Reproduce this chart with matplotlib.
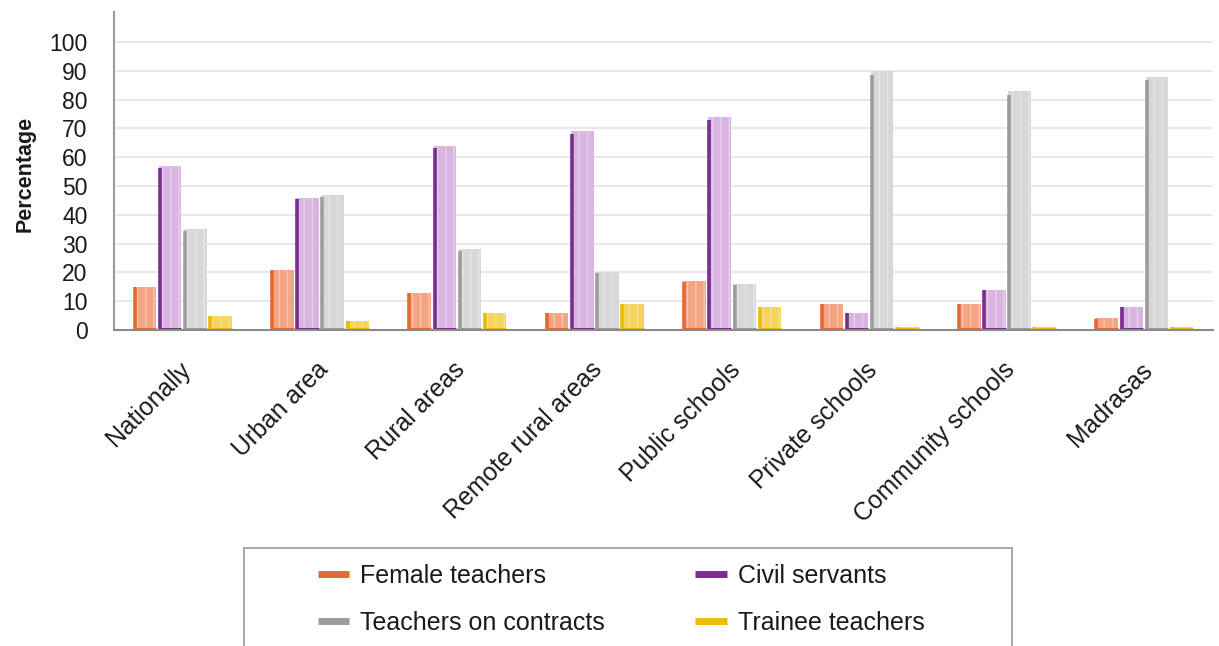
import matplotlib
matplotlib.use("Agg")
import matplotlib.pyplot as plt
import matplotlib.transforms as mtransforms
import numpy as np
from matplotlib.patches import Rectangle
from matplotlib.lines import Line2D

plt.rcParams['font.family'] = ['Liberation Sans', 'DejaVu Sans']
plt.rcParams['hatch.linewidth'] = 1.0

categories = ["Nationally", "Urban area", "Rural areas", "Remote rural areas",
              "Public schools", "Private schools", "Community schools", "Madrasas"]
series_names = ["Female teachers", "Civil servants", "Teachers on contracts", "Trainee teachers"]
female_teachers = [15, 21, 13, 6, 17, 9, 9, 4]
civil_servants = [57, 46, 64, 69, 74, 6, 14, 8]
teachers_on_contracts = [35, 47, 28, 20, 16, 90, 83, 88]
trainee_teachers = [5, 3, 6, 9, 8, 1, 1, 1]
y_ticks = [0, 10, 20, 30, 40, 50, 60, 70, 80, 90, 100]

series_values = [female_teachers, civil_servants, teachers_on_contracts, trainee_teachers]
fill_colors = ["#F4A583", "#D9B6E1", "#D8D8D8", "#F6D45E"]
edge_colors = ["#E8692E", "#7B2C8F", "#9C9C9C", "#EDB90A"]

W, H = 1219, 646
fig = plt.figure(figsize=(W / 100, H / 100), dpi=100)
ax = fig.add_axes([114 / W, 1 - 330 / H, (1213 - 114) / W, (330 - 12) / H])

x = np.arange(len(categories))
step = 0.183
width = 0.165
for i, (vals, fc, ec) in enumerate(zip(series_values, fill_colors, edge_colors)):
    offs = (i - 1.5) * step
    bars = ax.bar(x + offs, vals, width=width, color=fc, edgecolor=(1, 1, 1, 0.35),
                  linewidth=0, hatch="||", zorder=3)
    for b in bars:
        x0 = b.get_x()
        h = b.get_height()
        # pencil-style strokes: heavy left edge and baseline
        ax.plot([x0 + 0.008, x0 + 0.008], [0, h * 0.985], color=ec, lw=2.6,
                solid_capstyle="butt", zorder=4)
        ax.plot([x0, x0 + b.get_width()], [0.25, 0.25], color=ec, lw=2.2,
                solid_capstyle="butt", zorder=4)

ax.set_xlim(-0.5, len(categories) - 0.5)
ax.set_ylim(0, 110.4)
ax.set_yticks(y_ticks)
ax.set_yticklabels([str(t) for t in y_ticks], fontsize=16.5, color="#1a1a1a")
ax.set_xticks(x)
ax.set_xticklabels(categories, rotation=45, ha="right", va="center",
                   rotation_mode="anchor", fontsize=17.8, color="#1a1a1a")
ax.tick_params(axis="y", length=0, pad=19)
ax.tick_params(axis="x", length=0, pad=26)
shift = mtransforms.ScaledTranslation(4 / 100, 0, fig.dpi_scale_trans)
for lbl in ax.get_xticklabels():
    lbl.set_transform(lbl.get_transform() + shift)

for t in y_ticks[1:]:
    ax.axhline(t, color="#E8E8E8", lw=1.4, zorder=1)

for s in ["top", "right"]:
    ax.spines[s].set_visible(False)
ax.spines["left"].set_color("#9A9A9A")
ax.spines["left"].set_linewidth(1.5)
ax.spines["bottom"].set_color("#8A8A8A")
ax.spines["bottom"].set_linewidth(1.5)
ax.spines["bottom"].set_zorder(5)

fig.text(25 / W, 1 - 174 / H, "Percentage", rotation=90, ha="center", va="center",
         fontsize=15.5, fontweight="bold", color="#1a1a1a")

# legend frame (runs off the bottom of the figure)
fig.patches.append(Rectangle((244 / W, -0.05), (1012 - 244) / W, (1 - 548 / H) + 0.05,
                             transform=fig.transFigure, facecolor="white",
                             edgecolor="#9A9A9A", lw=1.2, zorder=0))

handles = [Line2D([0], [0], color=ec, lw=5, solid_capstyle="butt") for ec in edge_colors]
order = [0, 2, 1, 3]
leg = fig.legend([handles[k] for k in order], [series_names[k] for k in order],
                 loc="upper left", bbox_to_anchor=(318 / W, 1 - 564 / H), ncols=2,
                 frameon=False, fontsize=18, handlelength=1.25, handletextpad=0.45,
                 columnspacing=3.6, labelspacing=0.9, borderpad=0, borderaxespad=0)
for t in leg.get_texts():
    t.set_color("#1a1a1a")

fig.savefig("out.png", dpi=100, facecolor="white")
